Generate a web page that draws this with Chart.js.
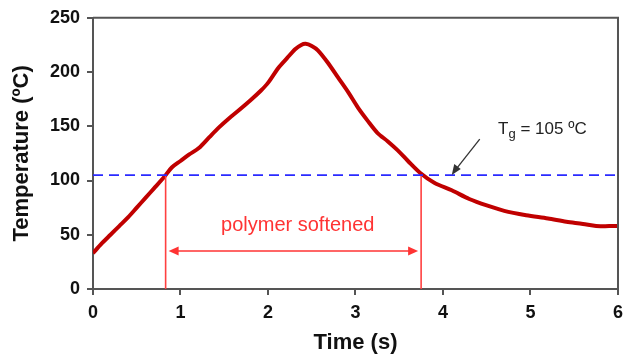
<!DOCTYPE html>
<html>
<head>
<meta charset="utf-8">
<script src="https://cdn.jsdelivr.net/npm/chart.js@4/dist/chart.umd.min.js"></script>
<style>
    html, body { margin: 0; padding: 0; background: #fff; }
    #wrap { width: 630px; height: 355px; }
</style>
</head>
<body>
<div id="wrap"><canvas id="tempChart"></canvas></div>
<script>
// data
const times = [0, 0.1, 0.2, 0.3, 0.4, 0.5, 0.6, 0.7, 0.82, 0.9, 1.0, 1.1, 1.21, 1.33, 1.44, 1.55, 1.67, 1.8, 1.92, 2.0, 2.12, 2.22, 2.31, 2.38, 2.43, 2.5, 2.57, 2.68, 2.8, 2.92, 3.03, 3.14, 3.25, 3.37, 3.48, 3.6, 3.74, 3.9, 4.1, 4.3, 4.5, 4.7, 4.95, 5.2, 5.41, 5.6, 5.75, 5.9, 6.0];
const temps = [33, 42, 50, 58, 66, 75, 84, 93, 104, 112, 118, 124, 130, 140, 149, 157, 165, 174, 183, 190, 204, 213, 221, 225, 226, 224, 220, 209, 195, 181, 167, 155, 144, 136, 128, 118, 107, 98, 91, 83, 77, 72, 68, 65, 62, 60, 58, 58, 58];
const tg = 105;
const softenStart = 0.83;
const softenEnd = 3.75;
const arrowLevel = 35;
const xTicks = [0, 1, 2, 3, 4, 5, 6];
const yTicks = [0, 50, 100, 150, 200, 250];

const ctx = document.getElementById('tempChart');

const curve = times.map((t, i) => ({ x: t, y: temps[i] }));

// extra drawing: frame, arrows and labels
const notes = {
    id: 'notes',
    afterDatasetsDraw(chart) {
        const c = chart.ctx;
        const xs = chart.scales.x;
        const ys = chart.scales.y;
        const area = chart.chartArea;

        c.save();
        // top and right border of the box
        c.strokeStyle = '#555';
        c.lineWidth = 2;
        c.beginPath();
        c.moveTo(area.left, area.top);
        c.lineTo(area.right, area.top);
        c.lineTo(area.right, area.bottom);
        c.stroke();

        // double arrow "polymer softened"
        const ay = ys.getPixelForValue(arrowLevel);
        const ax1 = xs.getPixelForValue(softenStart) + 3;
        const ax2 = xs.getPixelForValue(softenEnd) - 3;
        c.strokeStyle = '#ff3333';
        c.fillStyle = '#ff3333';
        c.lineWidth = 1.6;
        c.beginPath();
        c.moveTo(ax1 + 8, ay);
        c.lineTo(ax2 - 8, ay);
        c.stroke();
        c.beginPath();
        c.moveTo(ax1, ay);
        c.lineTo(ax1 + 10, ay - 4.5);
        c.lineTo(ax1 + 10, ay + 4.5);
        c.closePath();
        c.fill();
        c.beginPath();
        c.moveTo(ax2, ay);
        c.lineTo(ax2 - 10, ay - 4.5);
        c.lineTo(ax2 - 10, ay + 4.5);
        c.closePath();
        c.fill();

        c.font = '20px "Liberation Sans", Arial, sans-serif';
        c.textAlign = 'center';
        c.textBaseline = 'middle';
        c.fillText('polymer softened', xs.getPixelForValue(2.34), ys.getPixelForValue(59));

        // Tg label and pointer
        const px = xs.getPixelForValue(4.1);
        const py = ys.getPixelForValue(tg);
        c.strokeStyle = '#333';
        c.fillStyle = '#333';
        c.lineWidth = 1.3;
        c.beginPath();
        c.moveTo(px + 28, py - 36);
        c.lineTo(px + 2, py - 3);
        c.stroke();
        c.beginPath();
        c.moveTo(px, py);
        c.lineTo(px + 2.5, py - 11);
        c.lineTo(px + 9, py - 6);
        c.closePath();
        c.fill();

        c.fillStyle = '#222';
        c.textAlign = 'left';
        c.textBaseline = 'alphabetic';
        const tx = xs.getPixelForValue(4.63);
        const ty = ys.getPixelForValue(tg + 38);
        c.font = '17px "Liberation Sans", Arial, sans-serif';
        c.fillText('T', tx, ty);
        const tw = c.measureText('T').width;
        c.font = '13px "Liberation Sans", Arial, sans-serif';
        c.fillText('g', tx + tw, ty + 4);
        const gw = c.measureText('g').width;
        c.font = '17px "Liberation Sans", Arial, sans-serif';
        c.fillText(' = 105 ºC', tx + tw + gw, ty);
        c.restore();
    }
};

new Chart(ctx, {
    type: 'line',
    data: {
        datasets: [{
            data: [{ x: 0, y: tg }, { x: 6, y: tg }],
            borderColor: '#2a2aff',
            borderWidth: 1.8,
            borderDash: [10, 6],
            pointRadius: 0,
        }, {
            data: [{ x: softenStart, y: 0 }, { x: softenStart, y: tg }],
            borderColor: '#ff4040',
            borderWidth: 1.6,
            pointRadius: 0,
        }, {
            data: [{ x: softenEnd, y: 0 }, { x: softenEnd, y: tg }],
            borderColor: '#ff4040',
            borderWidth: 1.6,
            pointRadius: 0,
        }, {
            data: curve,
            borderColor: '#c00000',
            borderWidth: 4,
            pointRadius: 0,
            tension: 0.3,
        }]
    },
    options: {
        responsive: true,
        maintainAspectRatio: false,
        animation: false,
        layout: {
            padding: { left: 0, right: 4, top: 17, bottom: 0 }
        },
        plugins: {
            legend: { display: false },
            tooltip: { enabled: false },
        },
        scales: {
            x: {
                type: 'linear',
                min: 0,
                max: 6,
                afterBuildTicks: (scale) => { scale.ticks = xTicks.map(v => ({ value: v })); },
                afterFit: (scale) => { scale.height = 66; },
                border: { color: '#555', width: 2 },
                grid: { drawOnChartArea: false, tickLength: 6, color: '#555', lineWidth: 2 },
                ticks: {
                    padding: 7,
                    color: '#111',
                    font: { family: '"Liberation Sans", Arial', size: 18, weight: 'bold' },
                },
                title: {
                    display: true,
                    text: 'Time (s)',
                    color: '#111',
                    padding: { top: 4, bottom: -1 },
                    font: { family: '"Liberation Sans", Arial', size: 22, weight: 'bold' },
                },
            },
            y: {
                min: 0,
                max: 250,
                afterBuildTicks: (scale) => { scale.ticks = yTicks.map(v => ({ value: v })); },
                afterFit: (scale) => { scale.width = 93; },
                border: { color: '#555', width: 2 },
                grid: { drawOnChartArea: false, tickLength: 6, color: '#555', lineWidth: 2 },
                ticks: {
                    padding: 7,
                    color: '#111',
                    font: { family: '"Liberation Sans", Arial', size: 18, weight: 'bold' },
                },
                title: {
                    display: true,
                    text: 'Temperature (ºC)',
                    color: '#111',
                    padding: { top: 9, bottom: 0 },
                    font: { family: '"Liberation Sans", Arial', size: 22, weight: 'bold' },
                },
            },
        },
    },
    plugins: [notes]
});
</script>
</body>
</html>
